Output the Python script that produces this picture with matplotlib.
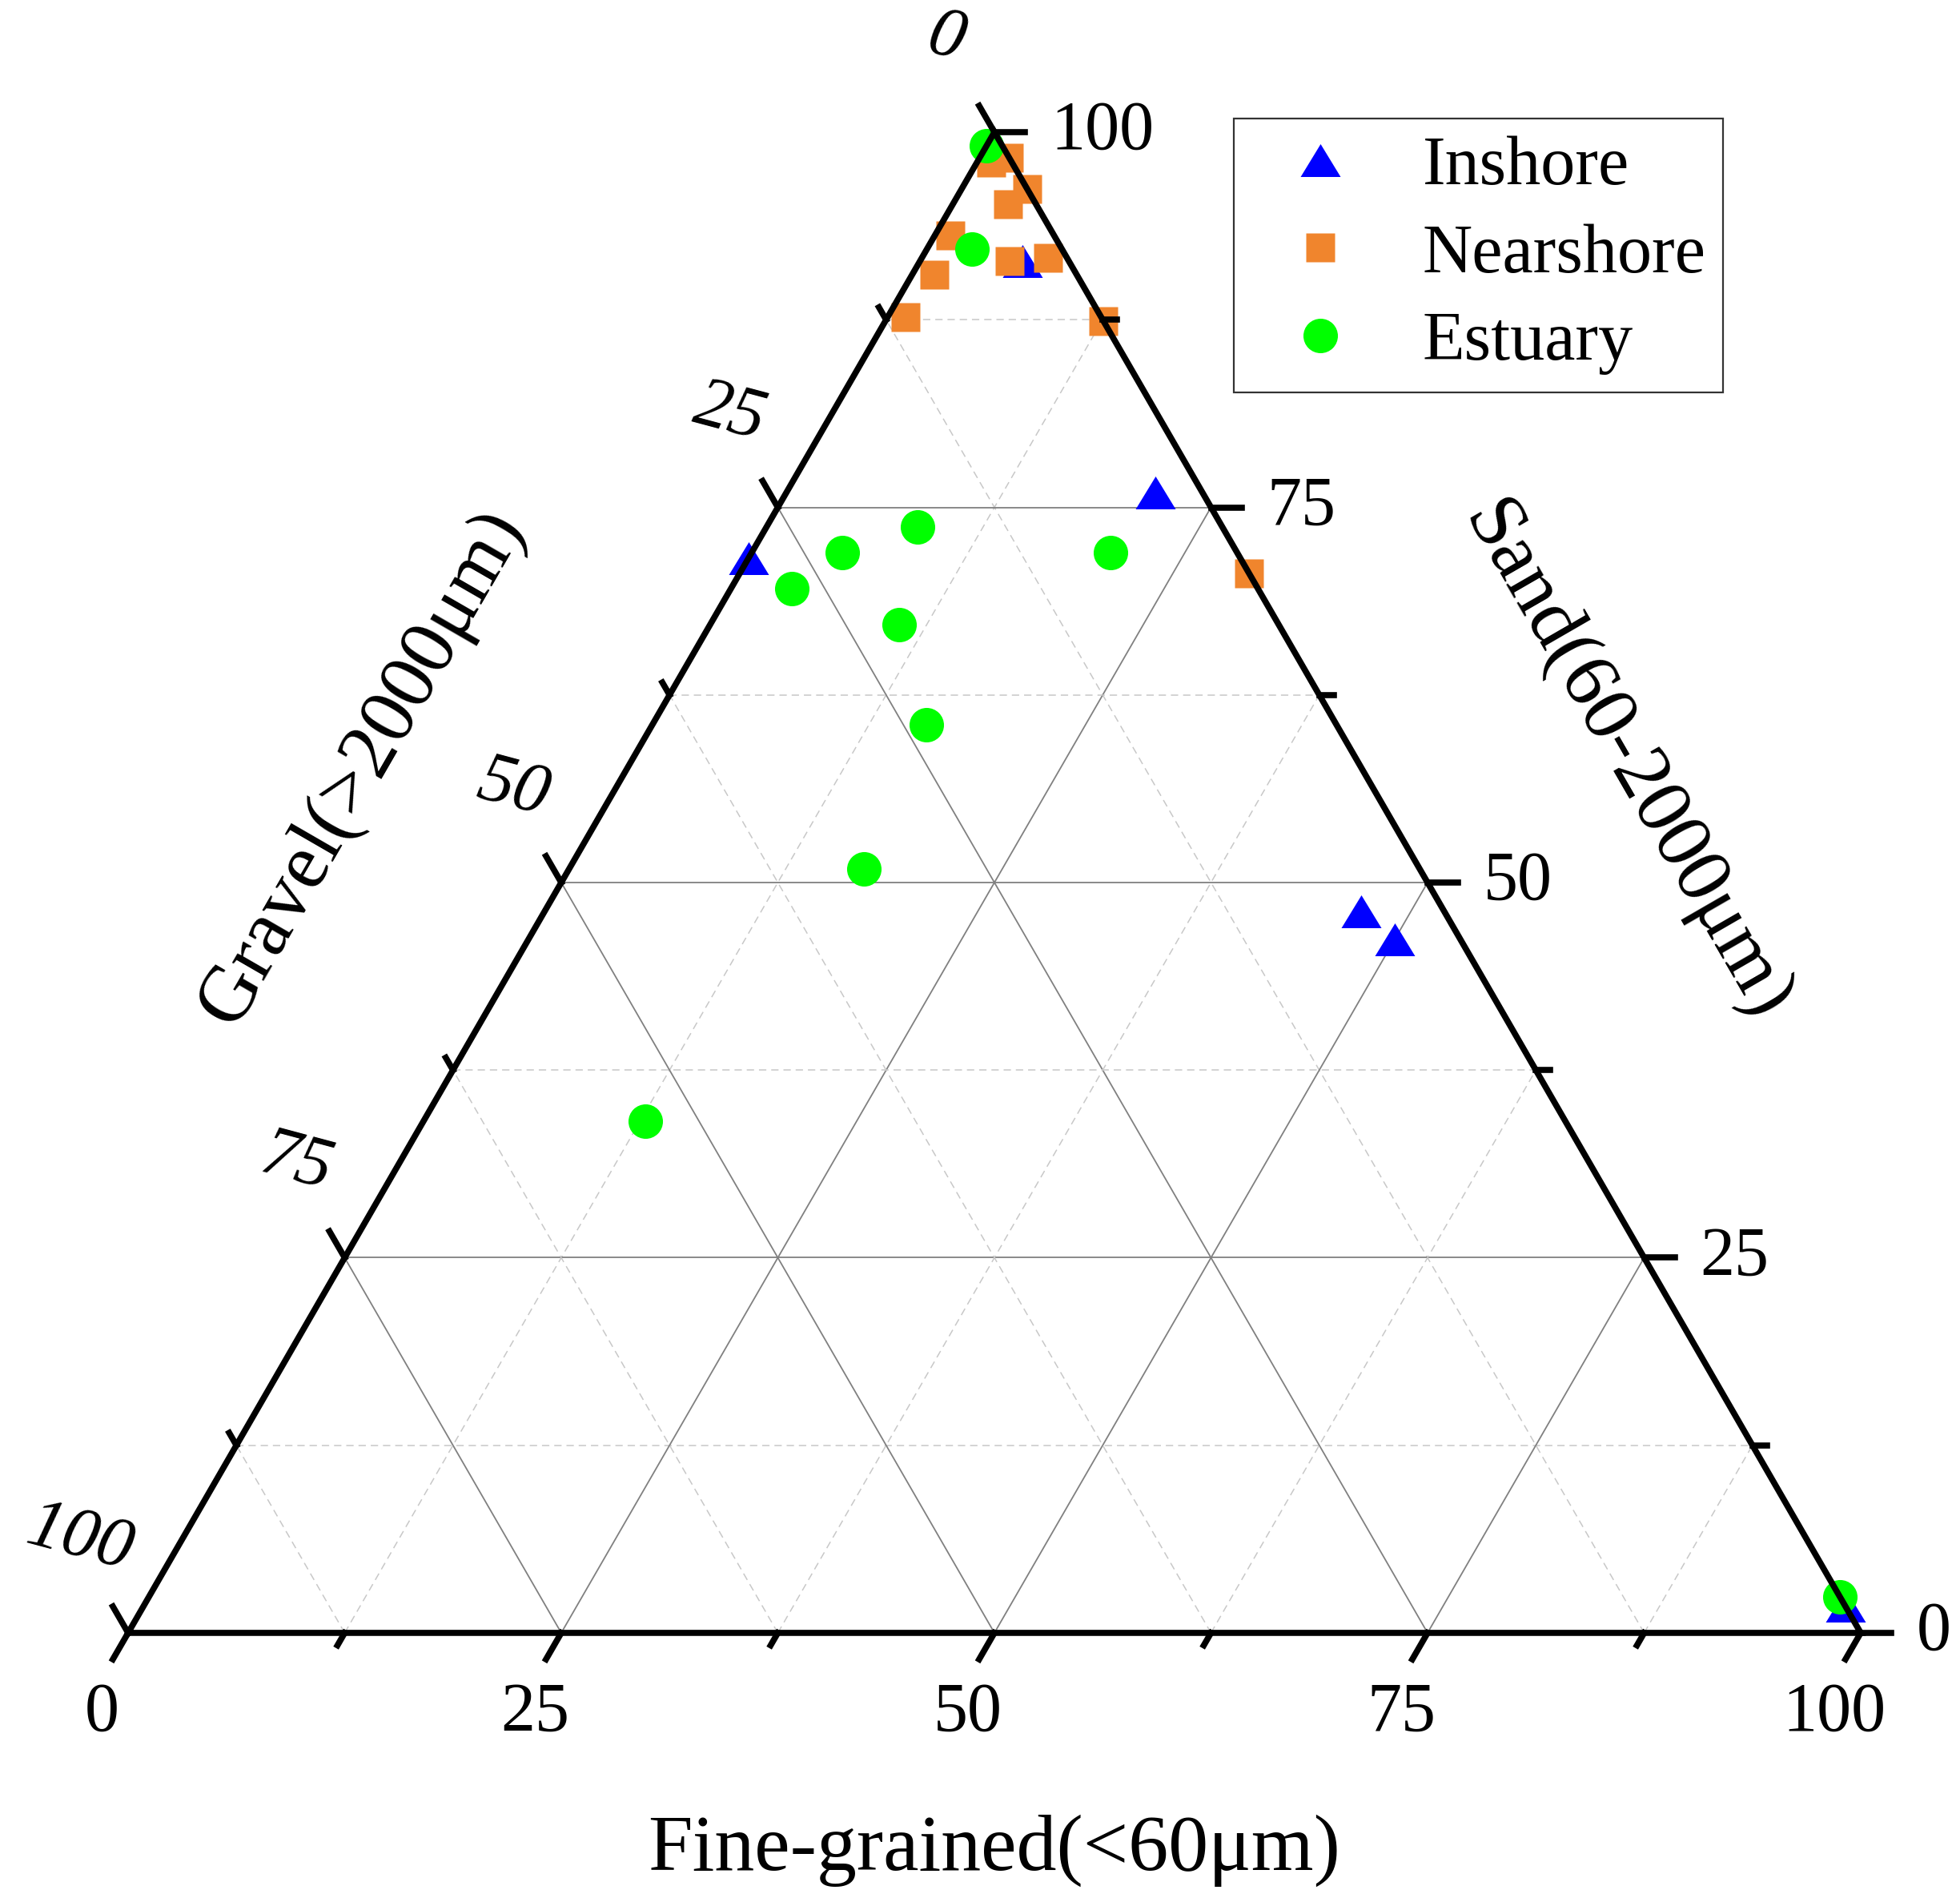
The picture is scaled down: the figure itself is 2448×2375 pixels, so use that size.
import numpy as np
import matplotlib
matplotlib.use("Agg")
import matplotlib.pyplot as plt

plt.rcParams['font.family'] = ['Liberation Serif', 'DejaVu Serif']

# ternary data: fine-grained, sand, gravel (%)
inshore_fine = [5.9, 0.0, 21.3, 47.1, 50.0, 98.2]
inshore_sand = [91.4, 71.6, 76.0, 48.1, 46.2, 1.8]
inshore_gravel = [2.7, 28.4, 2.7, 4.8, 3.8, 0.0]

nearshore_fine = [0.8, 1.7, 3.8, 3.2, 0.9, 5.2, 7.3, 1.3, 1.0, 12.6, 29.4]
nearshore_sand = [98.0, 98.3, 96.2, 95.2, 93.1, 91.4, 91.6, 90.5, 87.7, 87.4, 70.6]
nearshore_gravel = [1.2, 0.0, 0.0, 1.6, 6.0, 3.4, 1.1, 8.2, 11.3, 0.0, 0.0]

estuary_fine = [0.0, 2.6, 3.5, 5.2, 8.7, 20.7, 10.9, 15.8, 17.0, 12.8, 97.6]
estuary_sand = [99.1, 92.2, 69.6, 72.0, 73.7, 72.0, 67.2, 60.5, 50.9, 34.1, 2.4]
estuary_gravel = [0.9, 5.2, 26.9, 22.8, 17.6, 7.3, 21.9, 23.7, 32.1, 53.1, 0.0]

ticks = [0, 25, 50, 75, 100]
minor = [12.5, 37.5, 62.5, 87.5]

H = np.sqrt(3) / 2


def tern(f, s, g):
    f = np.asarray(f, float)
    s = np.asarray(s, float)
    g = np.asarray(g, float)
    tot = f + s + g
    f, s = f / tot * 100, s / tot * 100
    return f + s / 2, s * H


fig = plt.figure(figsize=(24.48, 23.75), dpi=100)
ax = fig.add_axes([0, 0, 1, 1])
ax.set_xlim(-7.394, 105.73)
ax.set_ylim(-15.53, 94.23)
ax.axis('off')

# grid
for v in sorted(ticks[1:-1] + minor):
    if v in ticks:
        kw = dict(color='#808080', lw=1.3, ls='-')
    else:
        kw = dict(color='#c8c8c8', lw=1.1, ls=(0, (6, 4)))
    for a, b in [((0, v, 100 - v), (100 - v, v, 0)),
                 ((v, 0, 100 - v), (v, 100 - v, 0)),
                 ((100 - v, 0, v), (0, 100 - v, v))]:
        x0, y0 = tern(*a)
        x1, y1 = tern(*b)
        ax.plot([x0, x1], [y0, y1], zorder=1, **kw)

# data
tri = [(0, 0.82), (-1, -0.82), (1, -0.82), (0, 0.82)]
x, y = tern(inshore_fine, inshore_sand, inshore_gravel)
ax.plot(x, y, ls='none', marker=tri, ms=36, color='#0000ff', mec='none',
        label='Inshore', zorder=3)
x, y = tern(nearshore_fine, nearshore_sand, nearshore_gravel)
ax.plot(x, y, ls='none', marker='s', ms=26.5, color='#f0852d', mec='none',
        label='Nearshore', zorder=3)
x, y = tern(estuary_fine, estuary_sand, estuary_gravel)
ax.plot(x, y, ls='none', marker='o', ms=31, color='#00ff00', mec='none',
        label='Estuary', zorder=3)

# frame
fx, fy = tern([0, 100, 0, 0], [0, 0, 100, 0], [100, 0, 0, 100])
ax.plot(fx, fy, color='black', lw=5.5, zorder=5, solid_capstyle='projecting',
        solid_joinstyle='miter')

# ticks
major_len, minor_len = 1.76, 0.83
d_sand = np.array([1.0, 0.0])
d_fine = np.array([-0.5, -H])
d_grav = np.array([-0.5, H])
for v in ticks + minor:
    L = major_len if v in ticks else minor_len
    px, py = tern(100 - v, v, 0)
    ax.plot([px, px + L * d_sand[0]], [py, py + L * d_sand[1]], color='black', lw=5.5, zorder=5)
    px, py = tern(v, 0, 100 - v)
    ax.plot([px, px + L * d_fine[0]], [py, py + L * d_fine[1]], color='black', lw=5.5, zorder=5)
    px, py = tern(0, 100 - v, v)
    ax.plot([px, px + L * d_grav[0]], [py, py + L * d_grav[1]], color='black', lw=5.5, zorder=5)

# tick labels
fs_tick = 62
for v in ticks:
    px, py = tern(100 - v, v, 0)
    ax.text(px + 3.23, py, f"{v}", fontsize=fs_tick, ha='left', va='center')
    px, py = tern(v, 0, 100 - v)
    ax.text(px - 1.52, py - 4.67, f"{v}", fontsize=fs_tick, ha='center', va='center')
    px, py = tern(0, 100 - v, v)
    ax.text(px - 2.77, py + 5.45, f"{v}", fontsize=fs_tick + 2, ha='center', va='center',
            style='italic', rotation=-15)

# axis titles
fs_title = 72
ax.text(50, -12.57, "Fine-grained(<60μm)", fontsize=fs_title, ha='center', va='center')
ax.text(25 - 13.3 * H, 50 * H + 13.3 * 0.5, "Gravel(>2000μm)", fontsize=fs_title,
        ha='center', va='center', rotation=60, rotation_mode='anchor')
ax.text(75 + 13.2 * H, 50 * H + 13.2 * 0.5 + 0.4, "Sand(60-2000μm)", fontsize=fs_title,
        ha='center', va='center', rotation=-60, rotation_mode='anchor')

leg = ax.legend(loc='upper left', bbox_to_anchor=(0.6295, 0.9377), borderaxespad=0,
                fontsize=62, numpoints=1, handlelength=2.0, handletextpad=0.49,
                borderpad=0.25, labelspacing=0.35, fancybox=False, frameon=True)
leg.get_frame().set_edgecolor('black')
leg.get_frame().set_linewidth(1.6)
leg.set_zorder(6)

fig.savefig('out.png', dpi=100)
